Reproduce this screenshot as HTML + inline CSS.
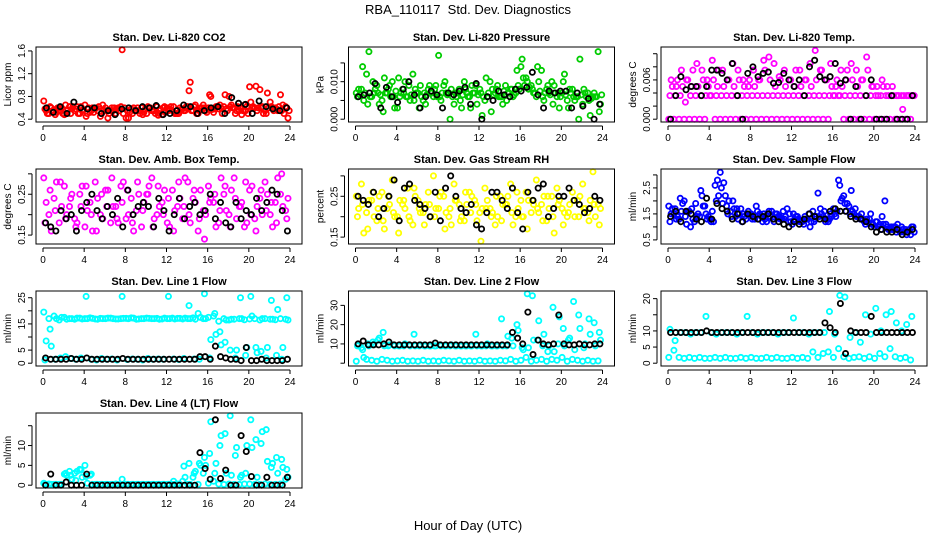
<!DOCTYPE html>
<html><head><meta charset="utf-8"><style>
html,body{margin:0;padding:0;background:#fff;}
svg{display:block;font-family:"Liberation Sans",sans-serif;}
</style></head><body>
<svg id="chart" width="936" height="540" viewBox="0 0 936 540" xmlns="http://www.w3.org/2000/svg">
<text x="468" y="14" font-size="13" text-anchor="middle">RBA_110117&#160; Std. Dev. Diagnostics</text>
<text x="468" y="530" font-size="13" text-anchor="middle">Hour of Day (UTC)</text>
</svg>
<script>
const xTicks=[0,4,8,12,16,20,24];
const co2A=[0.72,0.5,0.55,0.6,0.48,0.62,0.55,0.5,0.65,0.52,0.58,0.45,0.6,0.55,0.5,0.62,0.42,0.58,0.55,0.6,0.5,0.55,0.62,0.48,0.6,0.55,0.5,0.58,0.62,0.55,0.5,0.65,0.6,0.52,0.58,0.62,0.8,0.6,0.55,0.65,0.97,0.6,0.92,0.55,0.7,0.6,0.83,0.62];
const co2B=[0.58,0.62,0.48,0.55,0.65,0.5,0.58,0.62,0.45,0.55,0.6,0.5,0.55,0.6,0.58,1.62,0.55,0.5,0.6,0.48,0.62,0.55,0.47,0.6,0.55,0.62,0.5,0.55,0.9,0.62,0.55,0.6,0.83,0.58,0.65,0.83,0.62,0.5,0.6,0.55,0.7,0.98,0.6,0.5,0.62,0.58,0.55,0.6];
const co2C=[0.55,0.6,0.52,0.6,0.5,0.58,0.62,0.55,0.5,0.6,0.55,0.65,0.42,0.55,0.6,0.5,0.42,0.6,0.55,0.52,0.6,0.55,0.5,0.62,0.58,0.5,0.6,0.55,1.05,0.65,0.6,0.55,0.8,0.62,0.6,0.58,0.65,0.55,0.48,0.62,0.6,0.55,0.62,0.86,0.6,0.55,0.65,0.42];
const co2D=[0.5,0.55,0.6,0.5,0.56,0.62,0.5,0.57,0.6,0.52,0.62,0.55,0.5,0.6,0.55,0.6,0.52,0.55,0.5,0.57,0.6,0.5,0.58,0.52,0.62,0.5,0.57,0.62,0.55,0.5,0.6,0.52,0.57,0.62,0.5,0.55,0.6,0.62,0.55,0.5,0.62,0.6,0.5,0.6,0.55,0.62,0.5,0.55];
const co2K=[0.6,0.52,0.62,0.5,0.7,0.6,0.58,0.6,0.5,0.55,0.48,0.58,0.6,0.55,0.62,0.6,0.64,0.48,0.5,0.55,0.65,0.62,0.5,0.55,0.6,0.62,0.5,0.78,0.68,0.66,0.5,0.72,0.62,0.58,0.55,0.6];
const prA=[.007,.008,.012,.006,.009,.005,.007,.010,.003,.008,.006,.012,.007,.005,.008,.006,.017,.009,.007,.004,.008,.010,.006,.007,.008,.005,.010,.007,.006,.009,.008,.007,.014,.011,.009,.006,.013,.008,.010,.006,.007,.005,.008,.006,.004,.007,.006,.018];
const prB=[.006,.014,.004,.010,.007,.002,.008,.006,.011,.007,.009,.005,.003,.007,.009,.008,.006,.010,.0,.007,.005,.008,.003,.009,.007,.011,.002,.008,.006,.005,.008,.013,.016,.010,.008,.014,.006,.009,.004,.007,.010,.003,.006,.0,.008,.005,.007,.002];
const prC=[.008,.005,.018,.007,.004,.011,.009,.003,.006,.010,.005,.008,.009,.004,.007,.009,.005,.007,.008,.006,.003,.007,.009,.004,.001,.006,.008,.009,.004,.007,.006,.009,.011,.008,.007,.010,.005,.007,.009,.003,.012,.008,.005,.016,.007,.001,.006,.004];
const prD=[.0065,.007,.006,.008,.0065,.007,.006,.0075,.007,.006,.0065,.007,.006,.0065,.007,.006,.007,.0065,.006,.007,.0065,.006,.007,.0065,.006,.007,.0065,.006,.0075,.007,.0065,.008,.009,.0085,.007,.0075,.007,.0065,.007,.006,.0065,.007,.006,.0065,.006,.0055,.006,.0065];
const prK=[.006,.0065,.007,.0095,.003,.0085,.006,.0045,.008,.01,.0065,.003,.006,.0075,.0065,.003,.007,.0065,.0075,.0085,.004,.0095,.0,.006,.005,.0075,.0065,.006,.008,.0075,.0085,.0125,.0065,.003,.0075,.007,.0075,.0075,.003,.007,.0035,.0055,.0,.004];
const tmA=[0,0,0,0,0,0,0,0,0.0036,0,0,0,0,0,0,0,0,0,0,0,0,0,0,0,0,0,0,0,0,0,0,0,0.0036,0.0036,0,0,0,0,0,0,0,0,0,0,0,0,0,0];
const tmB=[0.0036,0.0036,0.0036,0.0026,0.0036,0.0036,0.0036,0.0036,0.0036,0.0036,0.0036,0.0036,0.0036,0.0036,0.0036,0.0036,0.0036,0.0036,0.0036,0.0036,0.0036,0.0036,0.0036,0.0036,0.0036,0.0036,0.0036,0.0036,0.0036,0.0036,0.0036,0.0036,0.0036,0.0036,0.0036,0.0036,0.0036,0.0036,0.0036,0.0036,0.0036,0.0036,0.0036,0.0036,0.0036,0.0036,0.0036,0.0036];
const tmC=[0.006,0.005,0.0075,0.006,0.005,0.0085,0.0075,0.006,0.009,0.005,0.0075,0.006,0.0085,0.0075,0.006,0.005,0.0075,0.006,0.009,0.0095,0.0085,0.0065,0.0075,0.006,0.005,0.0075,0.006,0.0085,0.0105,0.0075,0.006,0.0085,0.005,0.0075,0.006,0.0085,0.0075,0.006,0.0095,0.005,0.005,0.006,0.005,0.005,0.0036,0.0015,0.0036,0.0036];
const tmD=[0.005,0.006,0.005,0.006,0.0075,0.005,0.006,0.005,0.006,0.0075,0.005,0.006,0.005,0.006,0.005,0.006,0.005,0.006,0.0075,0.006,0.005,0.006,0.005,0.006,0.0075,0.005,0.006,0.005,0.006,0.0075,0.006,0.005,0.006,0.005,0.0075,0.006,0.005,0.006,0.0075,0.005,0.0036,0.005,0.0036,0.0036,0.0036,0.0036,0.0036,0.0036];
const tmK=[0,0.0036,0.0065,0.0045,0.005,0.005,0.0036,0.005,0.0075,0.0075,0.007,0.006,0.0085,0.0036,0.0,0.007,0.008,0.0065,0.007,0.0072,0.0055,0.0056,0.007,0.006,0.005,0.006,0.0036,0.008,0.009,0.0065,0.006,0.0065,0.0085,0.0055,0.006,0.0,0.005,0.0,0.0036,0.006,0.0,0.0,0.0,0.0036,0.0,0.0,0.0,0.0036];
const abA=[.29,.2,.24,.18,.27,.22,.19,.25,.17,.23,.28,.2,.26,.18,.22,.27,.19,.24,.21,.17,.25,.29,.2,.23,.18,.26,.22,.19,.28,.24,.16,.21,.27,.23,.18,.25,.2,.29,.22,.17,.26,.19,.24,.28,.2,.23,.25,.21];
const abB=[.18,.26,.21,.28,.19,.24,.17,.22,.27,.2,.16,.25,.22,.29,.19,.23,.26,.18,.28,.21,.25,.17,.27,.2,.24,.16,.28,.22,.2,.26,.19,.14,.23,.25,.21,.27,.17,.24,.22,.28,.2,.16,.26,.21,.23,.18,.3,.19];
const abC=[.23,.16,.28,.22,.2,.25,.18,.27,.21,.16,.24,.19,.26,.22,.18,.28,.2,.16,.25,.23,.27,.19,.22,.26,.17,.21,.24,.29,.18,.23,.26,.2,.24,.17,.29,.21,.26,.19,.23,.18,.27,.22,.2,.25,.17,.29,.22,.24];
const abK=[.18,.17,.16,.21,.19,.2,.16,.21,.23,.25,.21,.19,.22,.2,.24,.17,.26,.2,.22,.23,.22,.17,.24,.21,.16,.2,.24,.19,.22,.23,.2,.21,.25,.19,.23,.18,.17,.23,.19,.21,.2,.24,.21,.23,.26,.25,.21,.16];
const rhA=[.25,.28,.21,.24,.19,.26,.22,.29,.2,.23,.27,.18,.24,.21,.26,.3,.22,.25,.2,.28,.23,.19,.26,.24,.21,.27,.22,.18,.25,.23,.28,.2,.24,.26,.21,.29,.23,.19,.25,.27,.22,.2,.26,.24,.28,.21,.31,.23];
const rhB=[.2,.23,.17,.26,.22,.19,.25,.21,.16,.24,.2,.27,.22,.18,.23,.2,.25,.17,.22,.24,.19,.26,.21,.23,.14,.22,.2,.25,.19,.23,.21,.26,.2,.17,.24,.22,.19,.25,.2,.23,.18,.21,.24,.2,.22,.19,.23,.18];
const rhC=[.22,.16,.24,.2,.25,.17,.23,.2,.24,.22,.19,.25,.21,.23,.2,.22,.26,.21,.18,.24,.2,.23,.25,.19,.22,.24,.21,.2,.23,.25,.18,.22,.2,.24,.23,.21,.25,.22,.16,.24,.21,.23,.2,.25,.22,.24,.2,.22];
const rhK=[.25,.24,.23,.26,.2,.22,.25,.29,.19,.27,.28,.24,.23,.22,.2,.26,.19,.27,.3,.25,.22,.21,.23,.18,.17,.21,.26,.26,.24,.22,.27,.21,.17,.26,.24,.27,.28,.2,.22,.25,.25,.27,.24,.23,.21,.22,.25,.24];
const sfA=[1.8,1.5,1.3,2.0,1.6,1.2,1.4,1.8,1.3,2.6,3.1,2.2,1.6,1.4,1.7,1.3,1.5,1.8,1.4,1.2,1.6,1.5,1.3,1.7,1.1,1.4,1.2,1.3,1.6,2.3,1.4,1.2,1.7,2.8,2.2,1.8,1.5,1.4,1.2,1.3,1.0,1.1,2.0,0.9,1.0,0.8,0.9,0.7];
const sfB=[1.2,1.7,2.1,1.4,1.0,1.9,2.4,1.5,1.2,2.0,2.5,1.8,1.4,1.7,1.2,1.5,1.3,1.6,1.2,1.5,1.3,1.4,1.6,1.2,1.5,1.3,1.1,1.5,1.2,1.4,1.6,1.3,1.5,2.6,1.9,1.5,1.7,1.3,1.1,1.5,1.2,0.9,1.1,1.0,0.8,1.0,0.7,1.0];
const sfC=[1.5,1.3,1.6,1.1,1.7,1.4,2.2,1.3,1.6,2.8,1.9,1.5,2.0,1.3,1.5,1.6,1.4,1.3,1.5,1.6,1.2,1.4,1.3,1.5,1.3,1.2,1.4,1.0,1.3,1.7,1.2,1.5,1.4,2.0,1.6,2.4,1.4,1.5,1.3,1.1,1.2,1.4,1.0,0.9,1.1,0.9,0.8,1.0];
const sfD=[1.7,1.4,1.9,1.6,1.3,1.5,1.8,1.4,1.2,2.2,2.7,2.0,1.7,1.5,1.4,1.5,1.3,1.5,1.3,1.4,1.5,1.3,1.4,1.2,1.4,1.2,1.3,1.2,1.4,1.5,1.3,1.4,1.6,2.1,1.9,1.6,1.4,1.3,1.2,1.1,1.0,1.1,0.9,1.0,0.9,0.8,0.9,0.8];
const sfK=[1.4,1.6,1.2,1.6,1.5,1.3,1.2,2.1,1.3,1.9,1.7,1.6,1.3,1.5,1.2,1.5,1.4,1.3,1.4,1.5,1.3,1.2,1.1,1.0,1.2,1.1,1.3,1.5,1.4,1.3,1.3,1.6,1.7,1.6,1.6,1.4,1.3,1.3,1.2,1.0,0.8,0.9,0.8,0.8,0.9,0.7,0.8,0.9];
const l1A=[19.5,17,18,16.5,17.5,17,16.8,17.2,17,17.3,16.9,17.1,17,17.2,16.9,17,17.1,17.3,16.8,17,17.2,17,17.1,16.9,17,17.2,17.1,16.9,17,17.3,19,17,17.5,18,16,17,16.5,16.8,17,16.6,16.9,17,16.5,17,16.8,16.6,17,16.8];
const l1B=[1.2,13,1.5,2,2.5,1.8,1.5,2,25.5,1.5,1.2,1.8,1.5,1.6,1.2,25.5,1.4,1.6,1.5,1.2,1.8,1.5,1.6,1.5,25.5,1.6,1.4,1.8,22,1.6,1.5,26.5,2,19,12,8,5,2,25,3,25.5,6,4.5,2,24,3,1.5,25];
const l1C=[8.5,6.5,17,17.5,16.8,17,17.2,16.9,17,17.1,16.8,17,17.2,17,16.9,17.1,17,17.2,16.9,17,17.1,17,16.8,17.2,17,16.9,17.1,17.2,17,16.8,17.5,17,9,11,7,16.5,16.8,5,17,6,18,4,17,6,16.8,20.5,6,16.5];
const l1K=[2,1.5,1.5,1.5,1.5,1.8,1.5,1.5,2,1.5,1.5,1.5,1.5,1.5,1.5,1.8,1.5,1.5,1.5,1.5,1.5,1.5,1.5,1.5,1.5,1.5,1.5,1.5,1.5,1.5,2.5,2.5,1.5,6.5,2.5,2,1.5,1.5,1,6,1,1,1.5,1,1,1,1,1.5];
const l2A=[1,8,2,1.5,1,2,1.5,1,1.2,1.5,1,1.2,1,1.5,1,1.2,1,1.5,1.2,1,1.5,1,1.2,1,1.5,1,1.2,1,1.5,1.2,2,1,1.5,3,1,1.5,2,1,2,1.5,3,1,2,1.5,1,1.5,1,1.2];
const l2B=[9,7,10,11,12,16,9,9.5,9,9,9.5,15,9,9,9,9,9.5,9,9,9,9,9,9,15,9,9,9,9,23,9,13,20,8,36,35,12,9,6,29,10,18,12,32,25,8,23,21,16];
const l2C=[9.5,3,9,10,13,9,9.5,9,9,10,9,9,9.5,9,9,9,9,9,9.5,9,9,9,9,9,9,10,9,9,9,14,9,17,7,8,12,22,15,9,6,24,9,13,7,18,10,15,9,12];
const l2K=[10,11.5,9.5,9.5,9.5,10,11,9.5,9.5,9.5,9.5,9.5,9.5,9.5,9.5,10.5,9.5,9.5,9.5,9.5,9.5,9.5,9.5,9.5,9.5,9.5,9.5,9.5,9.5,9.5,16,13,10,26.5,4.5,12,10,9.5,10,25,10,9.5,9.5,10,9.5,9.5,10,10];
const l3A=[1.8,4,1.8,1.5,1.8,1.5,1.8,1.5,1.5,1.8,1.5,1.8,1.5,1.5,1.8,1.5,1.8,1.5,1.5,1.8,1.5,1.8,1.5,1.5,1.8,1.5,1.8,1.5,3.5,1.8,3,3.5,1.8,4.5,2,1.5,1.8,2,1.5,2,1.5,3,2,4.5,2,1.5,1.8,1];
const l3B=[10.5,7,9.5,9.5,9,9.5,9.5,14.5,9.5,9,9.5,9.5,9.5,9,9.5,14.5,9.5,9,9.5,9.5,9.5,9,9.5,9.5,14,9.5,9.5,9,9.5,9.5,9.5,16,9,21,20.5,8,9.5,6.5,15,9,17,10,15,16,12.5,10,12,14.5];
const l3K=[9.5,9.5,9.5,9.5,9.5,9.5,9.5,10,9.5,9.5,9.5,9.5,9.5,9.5,9.5,9.5,9.5,9.5,9.5,9.5,9.5,9.5,9.5,9.5,9.5,9.5,9.5,9.5,9.5,9.5,12.5,11,9.5,18.5,3,10,9.5,9.5,9.5,14.5,9.5,9.5,9.5,9.5,9.5,9.5,9.5,9.5];
const l4A=[0.5,0.3,0.2,0.2,2.8,3.5,3,4,5,2.5,0.2,0.2,0.2,0.2,0.3,0.2,0.2,0.2,0.2,0.2,0.2,0.2,0.2,0.2,0.2,0.2,0.3,1,0.2,2,0.2,3,0.5,1,0.3,0.2,0.3,0.2,0.2,0.3,0.3,0.2,0.2,0.3,0.2,0.2,0.3,1.5];
const l4B=[0.2,0.2,0.2,0.2,3,2.5,1.2,3.8,2.2,2.8,0.2,0.2,0.2,0.2,0.2,1.5,0.2,0.2,0.2,0.2,0.2,0.2,0.2,0.2,0.2,1,0.2,4.8,5.5,3,5.5,7,8,3,10,13,17.5,7.5,2,3,16.5,11.5,10.5,14,4.5,7,6.5,4];
const l4C=[0.2,0.2,0.2,0.2,2.5,1.5,3.5,2,0.5,0.2,0.2,0.2,0.2,0.2,0.2,0.2,0.2,0.2,0.2,0.2,0.2,0.2,0.2,0.2,0.2,0.2,0.2,2,0.2,3.5,5,5,16,5.5,12.5,3,2.5,9.5,2.5,10,9.5,2,13.5,6,5.5,3,4.5,2];
const l4K=[0,2.8,0,0,0.8,0,0,0,2.8,0,0,0,0,0,0,0,0,0,0,0,0,0,0,0,0,0,0,0,0,0,8.2,4.2,1.5,16.5,1.7,3.8,0,0,12.5,8.5,2.2,0,0,2,0,0,0,2];

const panels=[
 {name:'co2',title:'Stan. Dev. Li-820 CO2',ylab:'Licor ppm',col:'#ff0000',ser:[co2A,co2B,co2C,co2D],k:co2K,lo:0.4,hi:1.62,ticks:[0.4,0.8,1.2,1.6],labels:['0.4','0.8','1.2','1.6']},
 {name:'pressure',title:'Stan. Dev. Li-820 Pressure',ylab:'kPa',col:'#00cc00',ser:[prA,prB,prC,prD],k:prK,lo:0,hi:0.0185,ticks:[0,0.005,0.01,0.015],labels:['0.000','','0.010','']},
 {name:'temp',title:'Stan. Dev. Li-820 Temp.',ylab:'degrees C',col:'#ff00ff',ser:[tmA,tmB,tmC,tmD],k:tmK,lo:0,hi:0.0106,ticks:[0,0.002,0.004,0.006,0.008,0.010],labels:['0.000','','','0.006','','']},
 {name:'amb-box-temp',title:'Stan. Dev. Amb. Box Temp.',ylab:'degrees C',col:'#ff00ff',ser:[abA,abB,abC],k:abK,lo:0.135,hi:0.305,ticks:[0.15,0.2,0.25,0.3],labels:['0.15','','0.25','']},
 {name:'gas-rh',title:'Stan. Dev. Gas Stream RH',ylab:'percent',col:'#ffff00',ser:[rhA,rhB,rhC],k:rhK,lo:0.14,hi:0.31,ticks:[0.15,0.2,0.25,0.3],labels:['0.15','','0.25','']},
 {name:'sample-flow',title:'Stan. Dev. Sample Flow',ylab:'ml/min',col:'#0000ff',ser:[sfA,sfB,sfC,sfD],k:sfK,lo:0.45,hi:3.12,ticks:[0.5,1,1.5,2,2.5,3],labels:['0.5','','1.5','','2.5','']},
 {name:'line1-flow',title:'Stan. Dev. Line 1 Flow',ylab:'ml/min',col:'#00ffff',ser:[l1A,l1B,l1C],k:l1K,lo:0,hi:26.5,ticks:[0,5,10,15,20,25],labels:['0','5','','15','','25']},
 {name:'line2-flow',title:'Stan. Dev. Line 2 Flow',ylab:'ml/min',col:'#00ffff',ser:[l2A,l2B,l2C],k:l2K,lo:0,hi:36,ticks:[0,10,20,30],labels:['','10','20','30']},
 {name:'line3-flow',title:'Stan. Dev. Line 3 Flow',ylab:'ml/min',col:'#00ffff',ser:[l3A,l3B],k:l3K,lo:0,hi:21.5,ticks:[0,5,10,15,20],labels:['0','5','10','','20']},
 {name:'line4-flow',title:'Stan. Dev. Line 4 (LT) Flow',ylab:'ml/min',col:'#00ffff',ser:[l4A,l4B,l4C],k:l4K,lo:0,hi:17.5,ticks:[0,5,10,15],labels:['0','5','10','']}
];
const NS='http://www.w3.org/2000/svg';
const svg=document.getElementById('chart');
function mk(tag,attrs,parent){const e=document.createElementNS(NS,tag);for(const a in attrs)e.setAttribute(a,attrs[a]);(parent||svg).appendChild(e);return e;}
panels.forEach((p,idx)=>{
  const c=idx%3,r=Math.floor(idx/3);
  const x0=43+312.5*c,xw=247;
  const top=47+122*r,bot=122+122*r;
  const left=x0-7,right=x0+xw+12;
  const xs=h=>x0+h/24*xw;
  const ys=v=>(bot-2.8)-(v-p.lo)/(p.hi-p.lo)*((bot-2.8)-(top+2.8));
  const g=mk('g',{});
  
  
  const t=mk('text',{x:(left+right)/2,y:top-6,'font-size':11,'font-weight':'bold','text-anchor':'middle'},g);
  t.textContent=p.title;
  
  
  const yl=mk('text',{x:0,y:0,'font-size':10,'text-anchor':'middle',transform:`translate(${left-25},${(top+bot)/2}) rotate(-90)`},g);
  yl.textContent=p.ylab;
  
  
  const pts=mk('g',{fill:'none','stroke-width':1.8},g);
  
  
  p.ser.forEach((arr,si)=>{
    arr.forEach((v,i)=>{
      const h=(i+0.15+si*0.23)*24/arr.length;
      const cc=mk('circle',{cx:xs(Math.min(h,24)),cy:ys(v),r:2.6,stroke:p.col},pts);
      
      
    });
  });
  p.k.forEach((v,i)=>{
    const h=(i+0.5)*24/p.k.length;
    const cc=mk('circle',{cx:xs(h),cy:ys(v),r:2.6,stroke:'#000'},pts);
    
    
  });
  const box=mk('rect',{x:left,y:top,width:right-left,height:bot-top,fill:'none',stroke:'#000','stroke-width':1},g);
  
  
  mk('line',{x1:xs(0),x2:xs(24),y1:bot+4,y2:bot+4,stroke:'#000'},g);
  xTicks.forEach(h=>{
    mk('line',{x1:xs(h),x2:xs(h),y1:bot+4,y2:bot+8,stroke:'#000'},g);
    const tl=mk('text',{x:xs(h),y:bot+19,'font-size':10,'text-anchor':'middle'},g);
    tl.textContent=h;
    
    
  });
  mk('line',{x1:left-4,x2:left-4,y1:ys(p.ticks[0]),y2:ys(p.ticks[p.ticks.length-1]),stroke:'#000'},g);
  p.ticks.forEach((v,i)=>{
    mk('line',{x1:left-8,x2:left-4,y1:ys(v),y2:ys(v),stroke:'#000'},g);
    if(p.labels[i]){
      const tl=mk('text',{x:0,y:0,'font-size':10,'text-anchor':'middle',transform:`translate(${left-11},${ys(v)}) rotate(-90)`},g);
      tl.textContent=p.labels[i];
      
      
    }
  });
});
</script>
</body></html>
